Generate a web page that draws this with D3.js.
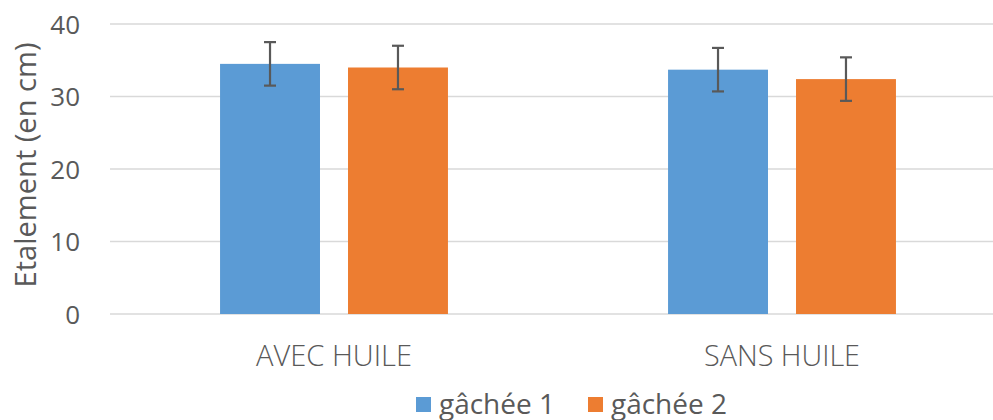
<!DOCTYPE html>
<html><head><meta charset="utf-8">
<script src="https://cdn.jsdelivr.net/npm/d3@7"></script>
<style>body{margin:0;background:#fff}svg{display:block}text{font-family:"Open Sans",sans-serif;fill:#595959}</style>
</head><body><svg id="c" width="993" height="420"></svg>
<script>
const categories = ["AVEC HUILE", "SANS HUILE"];
const seriesNames = ["gâchée 1", "gâchée 2"];
const gachee1 = [34.5, 33.7];
const gachee2 = [34.0, 32.4];
const errors1 = [3, 3];
const errors2 = [3, 3];
const yTicks = [0, 10, 20, 30, 40];
const colors = ["#5b9bd5", "#ed7d31"];

(function () {
const svg = d3.select("#c");
const mLeft = 110, mRight = 1006, mTop = 24, mBottom = 314;
const x = d3.scaleBand().domain(categories).range([mLeft, mRight]);
const inner = d3.scaleBand().domain(seriesNames).range([0, x.bandwidth()]).paddingInner(0.219).paddingOuter(0.86);
const y = d3.scaleLinear().domain([0, 40]).range([mBottom, mTop]);

function fit(sel, target) {
  sel.each(function () {
    const fs = parseFloat(this.getAttribute("font-size"));
    const w = this.getComputedTextLength();
    if (w > 0) this.setAttribute("font-size", (fs * target / w).toFixed(2));
  });
}

svg.append("g").selectAll("line").data(yTicks).join("line")
  .attr("x1", mLeft).attr("x2", 993).attr("y1", d => y(d)).attr("y2", d => y(d))
  .attr("stroke", "#d9d9d9").attr("stroke-width", 1.5);

const yAxis = svg.append("g").attr("transform", `translate(${mLeft},0)`)
  .call(d3.axisLeft(y).tickValues(yTicks).tickSize(0).tickPadding(30));
yAxis.select(".domain").remove();
yAxis.selectAll("text").attr("font-size", 26).attr("fill", "#595959").attr("font-family", null).attr("dy", "0.36em");

const data = [];
categories.forEach((c, i) => {
  data.push({c, s: seriesNames[0], v: gachee1[i], e: errors1[i], col: colors[0]});
  data.push({c, s: seriesNames[1], v: gachee2[i], e: errors2[i], col: colors[1]});
});
svg.append("g").selectAll("rect").data(data).join("rect")
  .attr("x", d => x(d.c) + inner(d.s)).attr("width", inner.bandwidth())
  .attr("y", d => y(d.v)).attr("height", d => y(0) - y(d.v))
  .attr("fill", d => d.col);

const eb = svg.append("g").attr("stroke", "#595959").attr("stroke-width", 2.2);
data.forEach(d => {
  const cx = x(d.c) + inner(d.s) + inner.bandwidth() / 2;
  eb.append("line").attr("x1", cx).attr("x2", cx).attr("y1", y(d.v + d.e)).attr("y2", y(d.v - d.e));
  eb.append("line").attr("x1", cx - 6).attr("x2", cx + 6).attr("y1", y(d.v + d.e)).attr("y2", y(d.v + d.e));
  eb.append("line").attr("x1", cx - 6).attr("x2", cx + 6).attr("y1", y(d.v - d.e)).attr("y2", y(d.v - d.e));
});

const cats = svg.append("g").selectAll("text").data(categories).join("text")
  .attr("x", d => x(d) + x.bandwidth() / 2)
  .attr("y", 366).attr("text-anchor", "middle").attr("font-size", 24)
  .style("font-weight", 300).text(d => d);
fit(cats, 156);

const title = svg.append("text").attr("transform", "translate(36,165) rotate(-90)")
  .attr("text-anchor", "middle").attr("font-size", 26)
  .text("Etalement (en cm)");
fit(title, 245);

const lg = svg.append("g");
const legX = [416, 588];
seriesNames.forEach((s, i) => {
  lg.append("rect").attr("x", legX[i]).attr("y", 397).attr("width", 15).attr("height", 15).attr("fill", colors[i]);
  const t = lg.append("text").attr("x", legX[i] + 23).attr("y", 414).attr("font-size", 26).text(s);
  fit(t, 116);
});
})();
</script></body></html>
